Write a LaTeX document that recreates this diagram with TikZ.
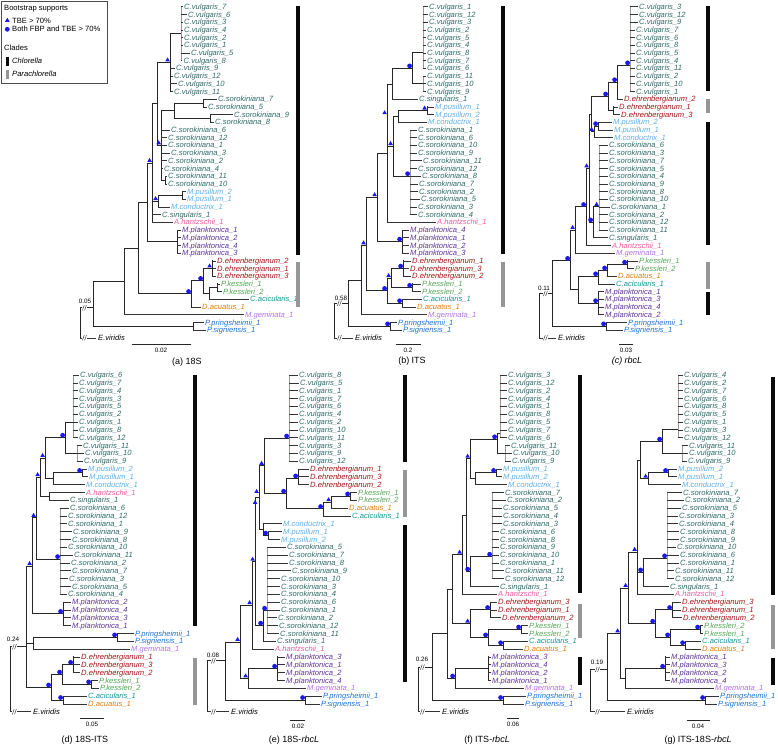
\documentclass[tikz,border=0pt]{standalone}
\usepackage{fontspec}
\setmainfont{Liberation Sans}
\usetikzlibrary{shapes.geometric}
\definecolor{ccv}{RGB}{47,107,102}
\definecolor{cso}{RGB}{47,107,102}
\definecolor{ccs}{RGB}{47,107,102}
\definecolor{cmp}{RGB}{95,175,235}
\definecolor{cmc}{RGB}{95,175,235}
\definecolor{cah}{RGB}{240,90,160}
\definecolor{cml}{RGB}{95,50,155}
\definecolor{cde}{RGB}{165,20,20}
\definecolor{cpk}{RGB}{85,165,85}
\definecolor{cca}{RGB}{20,150,150}
\definecolor{cda}{RGB}{225,125,10}
\definecolor{cmg}{RGB}{180,115,230}
\definecolor{cpp}{RGB}{30,115,215}
\definecolor{cps}{RGB}{30,115,215}
\definecolor{mblue}{RGB}{25,25,235}
\definecolor{barblack}{RGB}{10,10,10}
\definecolor{bargray}{RGB}{150,150,150}
\def\Ncv{C.vulgaris}\def\Nso{C.sorokiniana}\def\Ncs{C.singularis}
\def\Nmp{M.pusillum}\def\Nmc{M.conductrix}\def\Nah{A.hantzschii}
\def\Nml{M.planktonica}\def\Nde{D.ehrenbergianum}\def\Npk{P.kessleri}
\def\Nca{C.acicularis}\def\Nda{D.acuatus}\def\Nmg{M.geminata}
\def\Npp{P.pringsheimii}\def\Nps{P.signiensis}
\newcommand\nd[6][]{\draw[br] (#2,#4) -- (#3,#4); \draw[br,#1] (#3,#5) -- (#3,#6);}
\newcommand\lv[5]{\draw[lb] (#1,#3) -- (#2-1.2,#3); \node[lab,text=c#4] (\pn-#4#5) at (#2,#3) {\csname N#4\endcsname\_#5};}
\newcommand\ev[3]{\draw[lb] (#1,#3) -- (#2-2,#3); \node[lab,text=black] (\pn-ev) at (#2,#3) {E.viridis};}
\newcommand\rt[3]{\draw[br] (#1,#2) -- (#1,#3);}
\newcommand\tri[2]{\node[mtri,xshift=-2.4pt,yshift=2.4pt] at (#1,#2) {};}
\newcommand\cir[2]{\node[mcir,xshift=-2.4pt,yshift=2.4pt] at (#1,#2) {};}
\newcommand\brk[2]{\fill[white] (#1,#2) ++(-2.6pt,-1pt) rectangle ++(4.2pt,2pt); \draw[black!75,line width=0.5pt] (#1,#2) ++(-2.6pt,-2.6pt) -- ++(1.8pt,5.2pt) (#1,#2) ++(-0.4pt,-2.6pt) -- ++(1.8pt,5.2pt);}
\newcommand\kb[4]{\draw[#1,line width=3.6pt] (#2,#3) -- (#2,#4);}
\begin{document}
\begin{tikzpicture}[x=1pt,y=-1pt,
  br/.style={draw=black!85,line width=0.9pt,line cap=rect},
  lb/.style={draw=black!80,line width=0.6pt},
  gv/.style={draw=black!40,line width=0.7pt},
  lab/.style={anchor=mid west,inner sep=0pt,font=\fontsize{7.6}{8}\selectfont\itshape},
  mtri/.style={regular polygon,regular polygon sides=3,fill=mblue,inner sep=0pt,minimum size=5.4pt},
  mcir/.style={circle,fill=mblue,inner sep=0pt,minimum size=4.8pt},
  sclab/.style={font=\fontsize{6.3}{7}\selectfont,inner sep=0pt},
  captxt/.style={font=\fontsize{9}{10}\selectfont,inner sep=0pt},
  leg/.style={anchor=mid west,inner sep=0pt,font=\fontsize{7.6}{8}\selectfont}]
\useasboundingbox (0,0) rectangle (778,747);
\fill[white] (0,0) rectangle (778,747);
% legend
\draw[black!70,line width=0.6pt] (1,1) rectangle (107,83);
\node[leg] (legt) at (4,7.5) {Bootstrap supports};
\node[mtri] (legtri) at (7.3,20.4) {};
\node[leg] (legtbe) at (12,20.7) {TBE > 70\%};
\node[mcir] (legcir) at (7.3,29.3) {};
\node[leg] (legboth) at (12,29.3) {Both FBP and TBE > 70\%};
\node[leg] (legcl) at (4,48) {Clades};
\draw[barblack,line width=2.6pt] (7.3,56.5) -- (7.3,65.5);
\node[leg,font=\fontsize{7.6}{8}\selectfont\itshape] (legch) at (12,61) {Chlorella};
\draw[bargray,line width=2.6pt] (7.3,69.5) -- (7.3,78.5);
\node[leg,font=\fontsize{7.6}{8}\selectfont\itshape] (legpa) at (12,74) {Parachlorella};
%%%%%%%%%%%%%%%% (a)
\def\pn{a}
\begin{scope}[yshift=-6.7pt,y={(0pt,-7.7pt)}]
\rt{80}{39.1}{43}
\nd{80}{93}{39.1}{35.7}{41.5}
\ev{80}{98}{43}
\nd{93}{193}{41.5}{41}{42}
\lv{193}{205}{41}{pp}{1}
\lv{193}{207}{42}{ps}{1}
\nd{93}{124}{35.7}{31.35}{40}
\lv{124}{245}{40}{mg}{1}
\nd{124}{138}{31.35}{25.4}{37.3}
\nd{138}{191}{37.3}{35.6}{39}
\lv{191}{202}{39}{da}{1}
\nd{191}{203}{35.6}{34}{37.25}
\nd{203}{212}{34}{33}{35}
\lv{212}{217}{33}{de}{2}
\lv{212}{217}{34}{de}{1}
\lv{212}{217}{35}{de}{3}
\nd{203}{209}{37.25}{36.5}{38}
\nd{209}{217}{36.5}{36}{37}
\lv{217}{221}{36}{pk}{1}
\lv{217}{223}{37}{pk}{2}
\lv{209}{250}{38}{ca}{1}
\nd{138}{147}{25.4}{20.3}{30.5}
\nd{147}{177}{30.5}{29}{32}
\lv{177}{182}{29}{ml}{1}
\lv{177}{182}{30}{ml}{2}
\lv{177}{182}{31}{ml}{4}
\lv{177}{182}{32}{ml}{3}
\nd{147}{152}{20.3}{12.6}{28}
\lv{152}{162}{27}{cs}{1}
\lv{152}{174}{28}{ah}{1}
\nd{152}{158}{25.25}{24.5}{26}
\nd{158}{182}{24.5}{24}{25}
\lv{182}{187}{24}{mp}{2}
\lv{182}{187}{25}{mp}{1}
\lv{158}{171}{26}{mc}{1}
\nd{152}{157}{12.6}{7.25}{18}
\nd{157}{170}{7.25}{3.5}{11}
\nd[gv]{170}{181}{3.5}{0}{7}
\lv{181}{184}{0}{cv}{7}
\lv{181}{188}{1}{cv}{6}
\lv{181}{184}{2}{cv}{3}
\lv{181}{184}{3}{cv}{4}
\lv{181}{184}{4}{cv}{2}
\lv{181}{184}{5}{cv}{1}
\lv{181}{191}{6}{cv}{5}
\lv{181}{183.5}{7}{cv}{8}
\lv{170}{176}{8}{cv}{9}
\lv{170}{174}{9}{cv}{12}
\lv{170}{178}{10}{cv}{10}
\lv{170}{174}{11}{cv}{11}
\nd{157}{161}{18}{13.5}{22.5}
\nd{161}{174}{13.5}{12.5}{14.5}
\nd{174}{203}{12.5}{12}{13}
\lv{203}{218}{12}{so}{7}
\lv{203}{208}{13}{so}{5}
\nd{174}{210}{14.5}{14}{15}
\lv{210}{234}{14}{so}{9}
\lv{210}{215}{15}{so}{8}
\lv{161}{171}{16}{so}{6}
\lv{161}{168}{17}{so}{12}
\lv{161}{168}{18}{so}{1}
\lv{161}{171}{19}{so}{3}
\lv{161}{168}{20}{so}{2}
\lv{161}{164}{21}{so}{4}
\nd{161}{165}{22.5}{22}{23}
\lv{165}{168}{22}{so}{11}
\lv{165}{168}{23}{so}{10}
\kb{barblack}{298}{-0.05}{32.2}
\kb{bargray}{298}{33.2}{39}
\tri{170}{7.25}\tri{161}{18}\tri{152}{20.3}\tri{158}{25.25}\tri{212}{34}
\cir{203}{35.6}\cir{191}{37.3}
\brk{85}{39.1}\brk{85}{43}
\end{scope}
%%%%%%%%%%%%%%%% (b)
\def\pn{b}
\begin{scope}[yshift=-6.7pt,y={(0pt,-7.7pt)}]
\rt{334}{38.5}{43}
\nd{334}{348}{38.5}{35.5}{41.5}
\ev{334}{355}{43}
\nd{348}{390}{41.5}{41}{42}
\lv{390}{398}{41}{pp}{1}
\lv{390}{403}{42}{ps}{1}
\nd{348}{361}{35.5}{31}{40}
\lv{361}{428}{40}{mg}{1}
\nd{361}{366}{31}{24.75}{36.9}
\nd{366}{387}{36.9}{35.25}{38.5}
\nd{387}{391}{35.25}{34}{36.5}
\nd{391}{403}{34}{33}{35}
\lv{403}{412}{33}{de}{1}
\lv{403}{410}{34}{de}{3}
\lv{403}{412}{35}{de}{2}
\nd{391}{412}{36.5}{36}{37}
\lv{412}{422}{36}{pk}{1}
\lv{412}{422}{37}{pk}{2}
\nd{387}{402}{38.5}{38}{39}
\lv{402}{423}{38}{ca}{1}
\lv{402}{417}{39}{da}{1}
\nd{366}{377}{24.75}{19}{30.5}
\nd{377}{402}{30.5}{29}{32}
\lv{402}{410}{29}{ml}{4}
\lv{402}{410}{30}{ml}{1}
\lv{402}{410}{31}{ml}{2}
\lv{402}{410}{32}{ml}{3}
\nd{377}{387}{19}{10.15}{28}
\lv{387}{437}{28}{ah}{1}
\nd{387}{392}{10.15}{8}{12}
\lv{392}{419}{12}{cs}{1}
\nd{392}{412}{8}{6}{10}
\nd[gv]{412}{423}{6}{0}{8}
\lv{423}{429}{0}{cv}{1}
\lv{423}{429}{1}{cv}{12}
\lv{423}{429}{2}{cv}{3}
\lv{423}{427}{3}{cv}{2}
\lv{423}{427}{4}{cv}{5}
\lv{423}{427}{5}{cv}{4}
\lv{423}{427}{6}{cv}{8}
\lv{423}{427}{7}{cv}{7}
\lv{423}{427}{8}{cv}{6}
\nd[gv]{412}{423}{10}{9}{11}
\lv{423}{427}{9}{cv}{11}
\lv{423}{427}{10}{cv}{10}
\lv{423}{427}{11}{cv}{9}
\nd{387}{393}{18.1}{14.25}{22}
\nd{393}{398}{14.25}{13.5}{15}
\lv{398}{428}{15}{mc}{1}
\nd{398}{427}{13.5}{13}{14}
\lv{427}{435}{13}{mp}{1}
\lv{427}{435}{14}{mp}{2}
\nd[gv]{393}{410}{22}{16}{27}
\lv{410}{418}{16}{so}{1}
\lv{410}{418}{17}{so}{6}
\lv{410}{418}{18}{so}{10}
\lv{410}{418}{19}{so}{9}
\lv{410}{423}{20}{so}{11}
\lv{410}{418}{21}{so}{12}
\lv{410}{422}{22}{so}{8}
\lv{410}{419}{23}{so}{7}
\lv{410}{419}{24}{so}{2}
\lv{410}{421}{25}{so}{5}
\lv{410}{418}{26}{so}{3}
\lv{410}{418}{27}{so}{4}
\kb{barblack}{503}{-0.05}{32.1}
\kb{bargray}{503}{33.1}{39}
\cir{412}{8}\cir{410}{22}\cir{402}{30.5}\cir{403}{34}\cir{412}{36.5}\cir{402}{38.5}\cir{387}{36.9}\cir{390}{41.5}
\tri{427}{13.5}\tri{387}{14.1}\tri{393}{18.1}\tri{377}{24.75}\tri{366}{31}\tri{391}{35.25}
\brk{340}{38.5}\brk{340}{43}
\end{scope}
%%%%%%%%%%%%%%%% (c)
\def\pn{c}
\begin{scope}[yshift=-6.7pt,y={(0pt,-7.7pt)}]
\rt{539}{37.25}{43}
\nd{539}{552}{37.25}{33}{41.5}
\ev{539}{558}{43}
\nd{552}{606}{41.5}{41}{42}
\lv{606}{628}{41}{pp}{1}
\lv{606}{624}{42}{ps}{1}
\nd{552}{570}{33}{29}{36.75}
\nd{570}{578}{36.75}{35}{38.5}
\nd{578}{598}{38.5}{37}{40}
\lv{598}{605}{37}{ml}{1}
\lv{598}{605}{38}{ml}{3}
\lv{598}{605}{39}{ml}{4}
\lv{598}{605}{40}{ml}{2}
\nd{578}{598}{35}{34.25}{36}
\lv{598}{616}{36}{ca}{1}
\nd{598}{607}{34.25}{33.5}{35}
\lv{607}{618}{35}{da}{1}
\nd{607}{627}{33.5}{33}{34}
\lv{627}{639}{33}{pk}{1}
\lv{627}{635}{34}{pk}{2}
\nd{570}{575}{29}{26}{32}
\lv{575}{616}{32}{mg}{1}
\nd{575}{586}{26}{21}{31}
\lv{586}{612}{31}{ah}{1}
\nd{586}{589}{21}{14}{28}
\nd{589}{591}{14}{11.65}{16.25}
\nd{591}{608}{11.65}{9.8}{13.5}
\nd{608}{617}{9.8}{7.6}{12}
\lv{617}{624}{12}{de}{2}
\nd[gv]{617}{630}{7.6}{0}{11}
\lv{630}{639}{0}{cv}{3}
\lv{630}{639}{1}{cv}{12}
\lv{630}{639}{2}{cv}{9}
\lv{630}{636}{3}{cv}{7}
\lv{630}{636}{4}{cv}{6}
\lv{630}{636}{5}{cv}{8}
\lv{630}{636}{6}{cv}{5}
\lv{630}{636}{7}{cv}{4}
\lv{630}{636}{8}{cv}{11}
\lv{630}{636}{9}{cv}{2}
\lv{630}{636}{10}{cv}{10}
\lv{630}{636}{11}{cv}{1}
\nd{608}{613}{13.5}{13}{14}
\lv{613}{619}{13}{de}{1}
\lv{613}{621}{14}{de}{3}
\nd{591}{594}{16.25}{15.5}{17}
\lv{594}{614}{17}{mc}{1}
\nd{594}{598}{15.5}{15}{16}
\lv{598}{613}{15}{mp}{2}
\lv{598}{614}{16}{mp}{1}
\nd{589}{593}{28}{26}{30}
\lv{593}{609}{30}{cs}{1}
\nd[gv]{593}{599}{26}{18}{29}
\lv{599}{609}{18}{so}{6}
\lv{599}{609}{19}{so}{3}
\lv{599}{609}{20}{so}{7}
\lv{599}{609}{21}{so}{5}
\lv{599}{609}{22}{so}{4}
\lv{599}{609}{23}{so}{9}
\lv{599}{609}{24}{so}{8}
\lv{599}{609}{25}{so}{10}
\lv{599}{611}{26}{so}{1}
\lv{599}{609}{27}{so}{2}
\lv{599}{609}{28}{so}{12}
\lv{599}{609}{29}{so}{11}
\kb{barblack}{708}{-0.05}{11}
\kb{bargray}{708}{12}{13.85}
\kb{barblack}{708}{15}{31}
\kb{bargray}{708}{33.1}{36.6}
\kb{barblack}{708}{37.1}{40}
\cir{606}{41.5}\cir{570}{33}\cir{598}{38.5}\cir{598}{35}\cir{607}{34.25}\cir{627}{33.5}\cir{586}{26}\cir{608}{11.65}\cir{617}{9.8}\cir{630}{7.6}\cir{598}{15.5}\cir{593}{28}
\tri{575}{29}\tri{589}{21}\tri{594}{16.25}\tri{599}{26}
\brk{546}{37.25}\brk{546}{43}
\end{scope}
%%%%%%%%%%%%%%%% (d)
\def\pn{d}
\begin{scope}[yshift=-375pt,y={(0pt,-7.83pt)}]
\rt{10}{34.7}{43}
\nd{10}{26}{34.7}{24.4}{39.9}
\ev{10}{33}{43}
\nd{26}{32}{24.4}{18.25}{30.5}
\nd{32}{63}{30.5}{29}{32}
\lv{63}{72}{29}{ml}{2}
\lv{63}{72}{30}{ml}{4}
\lv{63}{72}{31}{ml}{3}
\lv{63}{72}{32}{ml}{1}
\nd{32}{36}{18.25}{13.05}{23.5}
\nd[gv]{36}{60}{23.5}{17}{28}
\lv{60}{70}{17}{so}{6}
\lv{60}{68}{18}{so}{12}
\lv{60}{68}{19}{so}{1}
\lv{60}{73}{20}{so}{9}
\lv{60}{72}{21}{so}{8}
\lv{60}{68}{22}{so}{10}
\lv{60}{74}{23}{so}{11}
\lv{60}{71}{24}{so}{2}
\lv{60}{72}{25}{so}{7}
\lv{60}{69}{26}{so}{3}
\lv{60}{72}{27}{so}{5}
\lv{60}{68}{28}{so}{4}
\nd{36}{40}{13.05}{10.6}{15.5}
\nd{40}{49}{15.5}{15}{16}
\lv{49}{86}{15}{ah}{1}
\lv{49}{70}{16}{cs}{1}
\nd{40}{45}{10.6}{8}{13.25}
\nd{45}{65}{8}{6}{10}
\nd[gv]{65}{73}{6}{0}{8}
\lv{73}{80}{0}{cv}{6}
\lv{73}{79}{1}{cv}{7}
\lv{73}{79}{2}{cv}{4}
\lv{73}{79}{3}{cv}{3}
\lv{73}{79}{4}{cv}{5}
\lv{73}{79}{5}{cv}{2}
\lv{73}{79}{6}{cv}{1}
\lv{73}{79}{7}{cv}{8}
\lv{73}{79}{8}{cv}{12}
\nd[gv]{65}{77}{10}{9}{11}
\lv{77}{83}{9}{cv}{11}
\lv{77}{85}{10}{cv}{10}
\lv{77}{84}{11}{cv}{9}
\nd{45}{53}{13.25}{12.5}{14}
\lv{53}{86}{14}{mc}{1}
\nd{53}{82}{12.5}{12}{13}
\lv{82}{88}{12}{mp}{2}
\lv{82}{89}{13}{mp}{1}
\nd{26}{33}{34.25}{33.5}{35}
\lv{33}{131}{35}{mg}{1}
\nd{33}{117}{33.5}{33}{34}
\lv{117}{135}{33}{pp}{1}
\lv{117}{135}{34}{ps}{1}
\nd{26}{51}{39.9}{38.25}{41.5}
\nd{51}{62}{38.25}{37}{39.5}
\nd{62}{73}{37}{36}{38}
\lv{73}{81}{36}{de}{1}
\lv{73}{81}{37}{de}{3}
\lv{73}{81}{38}{de}{2}
\nd{62}{91}{39.5}{39}{40}
\lv{91}{99}{39}{pk}{1}
\lv{91}{100}{40}{pk}{2}
\nd{51}{63}{41.5}{41}{42}
\lv{63}{88}{41}{ca}{1}
\lv{63}{88}{42}{da}{1}
\kb{barblack}{195}{-0.05}{32}
\kb{bargray}{195}{36.2}{42.1}
\tri{32}{24.4}\tri{36}{18.25}\tri{40}{13.05}\tri{45}{10.6}
\cir{63}{30.5}\cir{60}{23.5}\cir{65}{8}\cir{82}{12.5}\cir{117}{33.5}\cir{51}{39.9}\cir{62}{38.25}\cir{73}{37}\cir{91}{39.5}\cir{63}{41.5}
\brk{15}{34.7}\brk{15}{43}
\end{scope}
%%%%%%%%%%%%%%%% (e)
\def\pn{e}
\begin{scope}[yshift=-375pt,y={(0pt,-7.83pt)}]
\rt{207}{36.5}{43}
\nd{207}{225}{36.5}{34.1}{41.5}
\ev{207}{231}{43}
\nd{225}{305}{41.5}{41}{42}
\lv{305}{323}{41}{pp}{1}
\lv{305}{321}{42}{ps}{1}
\nd{225}{240}{34.1}{29.4}{38.75}
\nd{240}{248}{38.75}{37.5}{40}
\lv{248}{307}{40}{mg}{1}
\nd{248}{277}{37.5}{36}{39}
\lv{277}{286}{36}{ml}{3}
\lv{277}{286}{37}{ml}{1}
\lv{277}{286}{38}{ml}{2}
\lv{277}{286}{39}{ml}{4}
\nd{240}{252}{29.4}{23.85}{35}
\lv{252}{275}{35}{ah}{1}
\nd{252}{255}{23.85}{15.7}{32}
\nd{255}{259}{15.7}{11.6}{19.75}
\nd{259}{264}{11.6}{8.1}{15.15}
\nd[gv]{264}{289}{8.1}{0}{11}
\lv{289}{299}{0}{cv}{8}
\lv{289}{300}{1}{cv}{5}
\lv{289}{299}{2}{cv}{1}
\lv{289}{299}{3}{cv}{7}
\lv{289}{299}{4}{cv}{6}
\lv{289}{299}{5}{cv}{4}
\lv{289}{299}{6}{cv}{2}
\lv{289}{299}{7}{cv}{10}
\lv{289}{299}{8}{cv}{11}
\lv{289}{299}{9}{cv}{3}
\lv{289}{299}{10}{cv}{9}
\lv{289}{299}{11}{cv}{12}
\nd{264}{286}{15.15}{13.2}{17.1}
\nd{286}{298}{13.2}{12}{14}
\lv{298}{310}{12}{de}{1}
\lv{298}{310}{13}{de}{3}
\lv{298}{310}{14}{de}{2}
\nd{286}{323}{17.1}{16.25}{18}
\lv{323}{352}{18}{ca}{1}
\nd{323}{331}{16.25}{15.5}{17}
\lv{331}{349}{17}{da}{1}
\nd{331}{350}{15.5}{15}{16}
\lv{350}{358}{15}{pk}{1}
\lv{350}{358}{16}{pk}{2}
\nd{259}{263}{19.75}{19}{20.5}
\lv{263}{283}{19}{mc}{1}
\nd{263}{268}{20.5}{20}{21}
\lv{268}{283}{20}{mp}{1}
\lv{268}{281}{21}{mp}{2}
\nd{255}{263}{32}{30.1}{34}
\lv{263}{277}{34}{cs}{1}
\nd[gv]{263}{267}{30.1}{22}{33}
\lv{267}{287}{22}{so}{5}
\lv{267}{289}{23}{so}{7}
\lv{267}{289}{24}{so}{8}
\lv{267}{292}{25}{so}{9}
\lv{267}{281}{26}{so}{10}
\lv{267}{281}{27}{so}{3}
\lv{267}{281}{28}{so}{4}
\lv{267}{281}{29}{so}{6}
\lv{267}{281}{30}{so}{1}
\lv{267}{278}{31}{so}{2}
\lv{267}{279}{32}{so}{12}
\lv{267}{280}{33}{so}{11}
\kb{barblack}{405}{-0.05}{11.1}
\kb{bargray}{405}{12.1}{18.1}
\kb{barblack}{405}{19.2}{39.2}
\tri{240}{34.1}\tri{248}{38.75}\tri{252}{29.4}\tri{255}{23.85}\tri{257.5}{16.6}\tri{259}{15.2}\tri{264}{11.6}\tri{331}{16.25}
\cir{305}{41.5}\cir{277}{37.5}\cir{289}{8.1}\cir{286}{15.15}\cir{298}{13.2}\cir{323}{17.1}\cir{350}{15.5}\cir{268}{20.5}\cir{263}{32}\cir{267}{30.1}
\brk{214}{36.5}\brk{214}{43}
\end{scope}
%%%%%%%%%%%%%%%% (f)
\def\pn{f}
\begin{scope}[yshift=-375pt,y={(0pt,-7.83pt)}]
\rt{418}{37.3}{43}
\nd{418}{432}{37.3}{33.05}{41.5}
\ev{418}{442}{43}
\nd{432}{503}{41.5}{41}{42}
\lv{503}{527}{41}{pp}{1}
\lv{503}{525}{42}{ps}{1}
\nd{432}{447}{33.05}{27.35}{38.75}
\nd{447}{455}{38.75}{37.5}{40}
\lv{455}{525}{40}{mg}{1}
\nd{455}{488}{37.5}{36}{39}
\lv{488}{492}{36}{ml}{3}
\lv{488}{492}{37}{ml}{4}
\lv{488}{492}{38}{ml}{2}
\lv{488}{492}{39}{ml}{1}
\nd{447}{452}{27.35}{22.95}{31.75}
\nd{452}{470}{31.75}{30}{33.5}
\nd{470}{490}{30}{29}{31}
\lv{490}{498}{29}{de}{3}
\lv{490}{498}{30}{de}{1}
\lv{490}{502}{31}{de}{2}
\nd{470}{488}{33.5}{32.5}{34.5}
\nd{488}{521}{32.5}{32}{33}
\lv{521}{529}{32}{pk}{1}
\lv{521}{529}{33}{pk}{2}
\nd{488}{503}{34.5}{34}{35}
\lv{503}{529}{34}{ca}{1}
\lv{503}{524}{35}{da}{1}
\nd{452}{462}{22.95}{17.9}{28}
\lv{462}{498}{28}{ah}{1}
\nd{462}{466}{17.9}{10.7}{25.1}
\nd{466}{470}{10.7}{8.2}{13.25}
\nd{470}{497}{8.2}{7.5}{10}
\nd[gv]{497}{500}{7.5}{0}{8}
\lv{500}{508}{0}{cv}{3}
\lv{500}{508}{1}{cv}{12}
\lv{500}{508}{2}{cv}{2}
\lv{500}{508}{3}{cv}{4}
\lv{500}{508}{4}{cv}{1}
\lv{500}{508}{5}{cv}{8}
\lv{500}{508}{6}{cv}{5}
\lv{500}{508}{7}{cv}{7}
\lv{500}{508}{8}{cv}{6}
\nd[gv]{497}{505}{10}{9}{11}
\lv{505}{511}{9}{cv}{11}
\lv{505}{513}{10}{cv}{10}
\lv{505}{512}{11}{cv}{9}
\nd{470}{475}{13.25}{12.5}{14}
\lv{475}{508}{14}{mc}{1}
\nd{475}{496}{12.5}{12}{13}
\lv{496}{503}{12}{mp}{1}
\lv{496}{503}{13}{mp}{2}
\nd{466}{470}{25.1}{23.2}{27}
\lv{470}{500}{27}{cs}{1}
\nd[gv]{470}{492}{23.2}{15}{26}
\lv{492}{505}{15}{so}{7}
\lv{492}{507}{16}{so}{2}
\lv{492}{503}{17}{so}{5}
\lv{492}{503}{18}{so}{4}
\lv{492}{503}{19}{so}{3}
\lv{492}{500}{20}{so}{6}
\lv{492}{500}{21}{so}{8}
\lv{492}{500}{22}{so}{9}
\lv{492}{500}{23}{so}{10}
\lv{492}{500}{24}{so}{1}
\lv{492}{505}{25}{so}{11}
\lv{492}{505}{26}{so}{12}
\kb{barblack}{580}{-0.05}{27.9}
\kb{bargray}{580}{29.2}{33.6}
\kb{barblack}{580}{36}{39.6}
\tri{470}{31.75}\tri{462}{22.95}\tri{470}{10.7}
\cir{503}{41.5}\cir{455}{38.75}\cir{490}{30}\cir{488}{33.5}\cir{521}{32.5}\cir{503}{34.5}\cir{497}{8.2}\cir{496}{12.5}\cir{470}{25.1}\cir{492}{23.2}
\brk{423}{37.3}\brk{423}{43}
\end{scope}
%%%%%%%%%%%%%%%% (g)
\def\pn{g}
\begin{scope}[yshift=-375pt,y={(0pt,-7.83pt)}]
\rt{590}{37.6}{43}
\nd{590}{607}{37.6}{33}{41.5}
\ev{590}{627}{43}
\nd{607}{705}{41.5}{41}{42}
\lv{705}{720}{41}{pp}{1}
\lv{705}{718}{42}{ps}{1}
\nd{607}{620}{33}{27.2}{38.75}
\nd{620}{625}{38.75}{37.5}{40}
\lv{625}{715}{40}{mg}{1}
\nd{625}{665}{37.5}{36}{39}
\lv{665}{671}{36}{ml}{1}
\lv{665}{671}{37}{ml}{3}
\lv{665}{671}{38}{ml}{2}
\lv{665}{671}{39}{ml}{4}
\nd{620}{628}{27.2}{22.6}{31.75}
\nd{628}{655}{31.75}{30}{33.5}
\nd{655}{672}{30}{29}{31}
\lv{672}{682}{29}{de}{3}
\lv{672}{682}{30}{de}{1}
\lv{672}{683}{31}{de}{2}
\nd{655}{670}{33.5}{32.5}{34.5}
\nd{670}{700}{32.5}{32}{33}
\lv{700}{704}{32}{pk}{2}
\lv{700}{704}{33}{pk}{1}
\nd{670}{685}{34.5}{34}{35}
\lv{685}{702}{34}{ca}{1}
\lv{685}{702}{35}{da}{1}
\nd{628}{637}{22.6}{10.9}{28}
\lv{637}{675}{28}{ah}{1}
\nd{637}{640}{10.9}{8.5}{13.25}
\nd{640}{662}{8.5}{7}{10}
\nd[gv]{662}{678}{7}{0}{8}
\lv{678}{684}{0}{cv}{4}
\lv{678}{684}{1}{cv}{2}
\lv{678}{684}{2}{cv}{7}
\lv{678}{684}{3}{cv}{6}
\lv{678}{684}{4}{cv}{8}
\lv{678}{684}{5}{cv}{5}
\lv{678}{684}{6}{cv}{1}
\lv{678}{684}{7}{cv}{3}
\lv{678}{684}{8}{cv}{12}
\nd[gv]{662}{682}{10}{9}{11}
\lv{682}{689}{9}{cv}{11}
\lv{682}{689}{10}{cv}{10}
\lv{682}{688}{11}{cv}{9}
\nd{640}{648}{13.25}{12.5}{14}
\lv{648}{682}{14}{mc}{1}
\nd{648}{668}{12.5}{12}{13}
\lv{668}{678}{12}{mp}{2}
\lv{668}{678}{13}{mp}{1}
\nd{637}{643}{25.2}{23.4}{27}
\lv{643}{670}{27}{cs}{1}
\nd[gv]{643}{667}{23.4}{15}{26}
\lv{667}{683}{15}{so}{7}
\lv{667}{685}{16}{so}{2}
\lv{667}{682}{17}{so}{5}
\lv{667}{679}{18}{so}{3}
\lv{667}{679}{19}{so}{4}
\lv{667}{680}{20}{so}{8}
\lv{667}{680}{21}{so}{9}
\lv{667}{677}{22}{so}{10}
\lv{667}{680}{23}{so}{6}
\lv{667}{680}{24}{so}{1}
\lv{667}{675}{25}{so}{11}
\lv{667}{675}{26}{so}{12}
\kb{barblack}{773}{0.3}{28.1}
\kb{bargray}{773}{29.4}{35}
\kb{barblack}{773}{36.2}{39.6}
\tri{620}{33}\tri{628}{27.2}\tri{637}{22.6}\tri{648}{13.25}
\cir{705}{41.5}\cir{665}{37.5}\cir{655}{31.75}\cir{672}{30}\cir{670}{33.5}\cir{700}{32.5}\cir{685}{34.5}\cir{662}{8.5}\cir{668}{12.5}\cir{643}{25.2}\cir{667}{23.4}
\brk{598}{37.6}\brk{598}{43}
\end{scope}
%%%%%%%%%%%%%%%% root labels, scale bars, captions
\node[sclab] (ra) at (85,301.5) {0.05};
\node[sclab] (rb) at (341,298) {0.58};
\node[sclab] (rc) at (544,288) {0.11};
\node[sclab] (rd) at (13,639) {0.24};
\node[sclab] (re) at (213,655) {0.08};
\node[sclab] (rf) at (422,659) {0.26};
\node[sclab] (rg) at (597,662) {0.19};
\draw[br,line width=0.8pt] (132,344) -- (191,344); \node[sclab] (sa) at (161,350.5) {0.02};
\draw[br,line width=0.8pt] (396,344) -- (421,344); \node[sclab] (sb) at (408,350.5) {0.2};
\draw[br,line width=0.8pt] (619,344) -- (633,344); \node[sclab] (sc3) at (626,350.5) {0.03};
\draw[br,line width=0.8pt] (80,718) -- (104,718); \node[sclab] (sd) at (92,724.5) {0.05};
\draw[br,line width=0.8pt] (290,720) -- (305,720); \node[sclab] (se) at (298,726.5) {0.02};
\draw[br,line width=0.8pt] (507,718) -- (519,718); \node[sclab] (sf) at (513,724.5) {0.06};
\draw[br,line width=0.8pt] (687,720) -- (710,720); \node[sclab] (sg) at (698,726.5) {0.04};
\node[captxt] (capa) at (187,362) {(a) 18S};
\node[captxt] (capb) at (412,361) {(b) ITS};
\node[captxt] (capc) at (627,361) {\itshape (c) rbcL};
\node[captxt] (capd) at (85,740.5) {(d) 18S-ITS};
\node[captxt] (cape) at (294,740.5) {(e) 18S-\textit{rbcL}};
\node[captxt] (capf) at (487,740.5) {(f) ITS-\textit{rbcL}};
\node[captxt] (capg) at (698,740.5) {(g) ITS-18S-\textit{rbcL}};
\end{tikzpicture}
\end{document}
